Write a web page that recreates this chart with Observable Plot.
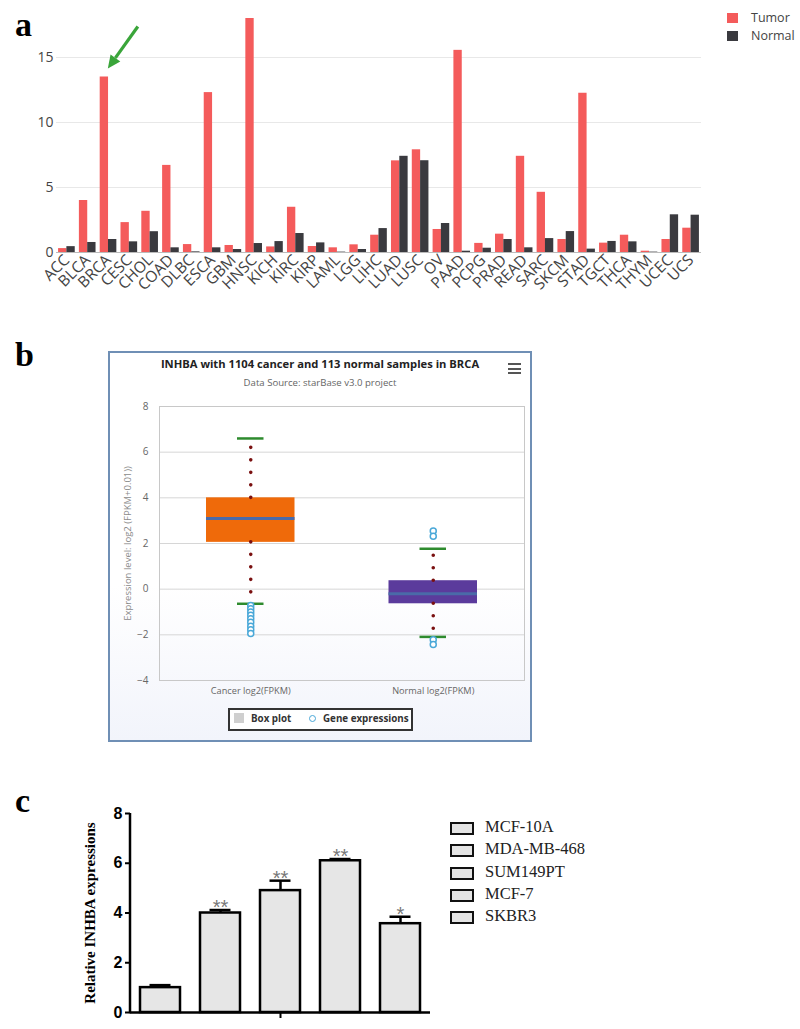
<!DOCTYPE html>
<html><head><meta charset="utf-8">
<script src="https://cdn.jsdelivr.net/npm/d3@7"></script>
<script src="https://cdn.jsdelivr.net/npm/@observablehq/plot@0.6"></script>
<style>
body{margin:0;background:#fff;}
#root{position:relative;width:800px;height:1029px;overflow:hidden;background:#fff;font-family:"Open Sans",sans-serif;}
.abs{position:absolute;}
.plabel{position:absolute;font-family:"Liberation Serif",serif;font-weight:bold;font-size:34px;line-height:1;color:#000;}
svg{overflow:visible;}
</style></head><body><div id="root"></div>
<script>
// ---------- Panel a data ----------
const cancers = ["ACC","BLCA","BRCA","CESC","CHOL","COAD","DLBC","ESCA","GBM","HNSC","KICH","KIRC","KIRP","LAML","LGG","LIHC","LUAD","LUSC","OV","PAAD","PCPG","PRAD","READ","SARC","SKCM","STAD","TGCT","THCA","THYM","UCEC","UCS"];
const tumor  = [0.3,4.0,13.5,2.3,3.17,6.7,0.61,12.3,0.54,18.0,0.43,3.48,0.46,0.36,0.59,1.33,7.05,7.9,1.77,15.55,0.7,1.41,7.4,4.63,1.0,12.25,0.72,1.33,0.1,1.0,1.87];
const normal = [0.45,0.77,1.0,0.82,1.6,0.36,0.05,0.36,0.23,0.69,0.84,1.46,0.74,0.03,0.23,1.84,7.4,7.06,2.23,0.1,0.33,1.0,0.36,1.07,1.61,0.26,0.85,0.82,0.03,2.9,2.87];
const seriesNames = ["Tumor","Normal"];
const seriesColors = ["#f45b5b","#3a3a3f"];
const ticksA = [0,5,10,15];

// ---------- Panel b data ----------
const groupsB = ["Cancer log2(FPKM)","Normal log2(FPKM)"];
const q1B  = [2.05,-0.64];
const medB = [3.1,-0.2];
const q3B  = [4.0,0.37];
const loB  = [-0.64,-2.09];
const hiB  = [6.6,1.77];
const boxColorsB = ["#ef6a0a","#5b3b9c"];
const outCancer = [-0.72,-0.86,-1.0,-1.14,-1.3,-1.45,-1.62,-1.78,-1.94];
const outNormal = [2.55,2.32,-2.22,-2.42];
const ticksB = [-4,-2,0,2,4,6,8];

// ---------- Panel c data ----------
const cells  = ["MCF-10A","MDA-MB-468","SUM149PT","MCF-7","SKBR3"];
const meansC = [1.0,4.0,4.9,6.1,3.57];
const errC   = [0.1,0.12,0.4,0.07,0.28];
const starsC = ["","**","**","**","*"];
const ticksC = [0,2,4,6,8];

const root = document.getElementById("root");
function addDiv(html, style, cls){const d=document.createElement("div");d.className=cls||"abs";d.innerHTML=html;Object.assign(d.style,style);root.appendChild(d);return d;}
function place(el, left, top){el.style.position="absolute";el.style.left=left+"px";el.style.top=top+"px";root.appendChild(el);}

// ================= Panel a =================
const dataA = cancers.flatMap((c,i)=>[{cancer:c,type:"Tumor",value:tumor[i]},{cancer:c,type:"Normal",value:normal[i]}]);
const plotA = Plot.plot({
  width:710, height:300, marginLeft:56, marginRight:9, marginTop:11.5, marginBottom:48,
  style:{fontFamily:"Open Sans", fontSize:"14px", color:"#444", background:"transparent"},
  x:{domain:cancers, paddingInner:0.2, paddingOuter:0.1, round:false, label:null},
  y:{domain:[0,18.5], label:null},
  color:{domain:seriesNames, range:seriesColors},
  marks:[
    Plot.gridY(ticksA.filter(d=>d>0), {stroke:"#e8e8e8", strokeOpacity:1}),
    Plot.barY(dataA.filter(d=>d.type==="Tumor"), {x:"cancer", y:"value", fill:"type", insetRight:8.3}),
    Plot.barY(dataA.filter(d=>d.type==="Normal"), {x:"cancer", y:"value", fill:"type", insetLeft:8.3}),
    Plot.ruleY([0], {stroke:"#bbb"}),
    Plot.axisY({ticks:ticksA, tickSize:0, tickPadding:3, fontSize:14, fill:"#444", label:null}),
    Plot.axisX({tickSize:0, tickRotate:-45, tickPadding:5, fontSize:15.5, fill:"#444", label:null})
  ]
});
place(plotA, 0, 0);
// green arrow pointing at BRCA tumor bar
{
  const sx = plotA.scale("x"), sy = plotA.scale("y");
  const bi = cancers.indexOf("BRCA");
  const tipX = sx.apply("BRCA") + sx.bandwidth*0.25 + 4;
  const tipY = sy.apply(tumor[bi]) - 8;
  const vx = -30, vy = 42, L = Math.hypot(vx,vy), ux = vx/L, uy = vy/L, px = -uy, py = ux;
  const bx = tipX - ux*13, by = tipY - uy*13;
  const g = d3.select(plotA).append("g");
  g.append("line").attr("x1", tipX - vx).attr("y1", tipY - vy).attr("x2", bx).attr("y2", by)
    .attr("stroke","#3aa53a").attr("stroke-width",3.2);
  g.append("polygon").attr("points",[[tipX,tipY],[bx+px*6,by+py*6],[bx-px*6,by-py*6]].map(p=>p.join(",")).join(" "))
    .attr("fill","#3aa53a");
}
// legend a
seriesNames.forEach((n,i)=>{
  addDiv("", {left:"727px", top:(13+i*18)+"px", width:"11px", height:"10px", background:seriesColors[i]});
  addDiv(n, {left:"751px", top:(9+i*18)+"px", fontSize:"12.5px", color:"#444", fontFamily:"Open Sans", lineHeight:"18px"});
});
addDiv("a", {left:"15px", top:"8px"}, "plabel");

// ================= Panel b =================
addDiv("b", {left:"15px", top:"338px"}, "plabel");
addDiv("", {left:"108px", top:"351px", width:"420px", height:"387px", border:"2px solid #6f8fb5",
  background:"linear-gradient(#ffffff 0%, #ffffff 60%, #f2f4fb 100%)"});
addDiv("INHBA with 1104 cancer and 113 normal samples in BRCA", {left:"110px", top:"355px", width:"420px", textAlign:"center",
  fontFamily:"Open Sans", fontWeight:"bold", fontSize:"11.2px", color:"#222", lineHeight:"18px"});
addDiv("Data Source: starBase v3.0 project", {left:"110px", top:"375px", width:"420px", textAlign:"center",
  fontFamily:"Open Sans", fontSize:"9.6px", color:"#666", lineHeight:"16px"});
[0,1,2].forEach(k=>addDiv("", {left:"508px", top:(363+k*4.5)+"px", width:"13px", height:"2px", background:"#555"}));

const boxesB = groupsB.map((g,i)=>({g, q1:q1B[i], med:medB[i], q3:q3B[i], lo:loB[i], hi:hiB[i], color:boxColorsB[i]}));
const outB = [...outCancer.map(v=>({g:groupsB[0], v})), ...outNormal.map(v=>({g:groupsB[1], v}))];
const dotted = {stroke:"#7a1010", strokeWidth:3.6, strokeDasharray:"0 12.5", strokeLinecap:"round"};
const plotB = Plot.plot({
  width:420, height:360, marginLeft:49, marginRight:6, marginTop:53, marginBottom:33,
  style:{fontFamily:"Open Sans", fontSize:"10px", color:"#666", background:"transparent"},
  x:{domain:groupsB, padding:0, round:false, label:null},
  y:{domain:[-4,8], label:null},
  color:{type:"identity"},
  marks:[
    Plot.gridY(ticksB, {stroke:"#d6d6d6", strokeOpacity:1}),
    Plot.frame({stroke:"#c8c8c8"}),
    Plot.barY(boxesB, {x:"g", y1:"q1", y2:"q3", fill:"color", insetLeft:47, insetRight:47}),
    Plot.tickY(boxesB, {x:"g", y:"med", stroke:"#4a6aa8", strokeWidth:3, insetLeft:47, insetRight:47}),
    Plot.ruleX(boxesB, {x:"g", y1:"q3", y2:"hi", ...dotted}),
    Plot.ruleX(boxesB, {x:"g", y1:"q1", y2:"lo", ...dotted}),
    Plot.tickY(boxesB, {x:"g", y:"hi", stroke:"#2e8b2e", strokeWidth:2.5, inset:78}),
    Plot.tickY(boxesB, {x:"g", y:"lo", stroke:"#2e8b2e", strokeWidth:2.5, inset:78}),
    Plot.dot(outB, {x:"g", y:"v", r:3, stroke:"#4aa8d8", strokeWidth:1.5, fill:"white"}),
    Plot.axisY({ticks:ticksB, tickSize:0, tickPadding:11, fill:"#666", fontSize:10, label:null}),
    Plot.axisX({tickSize:0, tickPadding:7, fontSize:9.2, fill:"#666", label:null}),
    Plot.text(["Expression level: log2 (FPKM+0.01))"], {frameAnchor:"left", textAnchor:"middle", rotate:-90, dx:-32, fill:"#8a8a8a", fontSize:9.5})
  ]
});
place(plotB, 110, 353);
// legend b
addDiv("", {left:"228px", top:"708px", width:"181px", height:"19px", border:"2px solid #333", background:"#fff"});
addDiv("", {left:"234px", top:"713px", width:"10px", height:"10px", background:"#cfcfcf"});
addDiv("Box plot", {left:"251px", top:"709px", fontFamily:"Open Sans", fontWeight:"bold", fontSize:"9.8px", color:"#333", lineHeight:"19px"});
addDiv("", {left:"309px", top:"715px", width:"5px", height:"5px", border:"1.5px solid #4aa8d8", borderRadius:"50%"});
addDiv("Gene expressions", {left:"323px", top:"709px", fontFamily:"Open Sans", fontWeight:"bold", fontSize:"9.8px", color:"#333", lineHeight:"19px"});

// ================= Panel c =================
addDiv("c", {left:"15px", top:"784px"}, "plabel");
const dataC = cells.map((c,i)=>({cell:c, mean:meansC[i], hi:meansC[i]+errC[i], star:starsC[i]}));
const plotC = Plot.plot({
  width:440, height:239, marginLeft:130, marginRight:10, marginTop:23, marginBottom:17,
  style:{fontFamily:"Liberation Sans", background:"transparent", color:"#000"},
  x:{domain:cells, paddingInner:1/3, paddingOuter:1/6, round:false, label:null},
  y:{domain:[0,8], label:null},
  marks:[
    Plot.barY(dataC, {x:"cell", y:"mean", fill:"#e6e6e6", stroke:"#000", strokeWidth:2.5}),
    Plot.ruleX(dataC, {x:"cell", y1:"mean", y2:"hi", stroke:"#000", strokeWidth:2.5}),
    Plot.tickY(dataC, {x:"cell", y:"hi", stroke:"#000", strokeWidth:2.5, inset:9.5}),
    Plot.text(dataC, {x:"cell", y:"hi", text:"star", dy:-2.5, fill:"#777", fontSize:20}),
    Plot.ruleY([0], {stroke:"#000", strokeWidth:2.5}),
    Plot.axisY({ticks:ticksC, tickSize:5, tickPadding:3, fontSize:16, fontWeight:"bold", stroke:"#000", strokeWidth:2, fill:"#000", label:null}),
    Plot.axisX({ticks:[cells[2]], tickSize:6, tickFormat:()=>"", stroke:"#000", strokeWidth:2, label:null}),
    Plot.text(["Relative INHBA expressions"], {frameAnchor:"left", textAnchor:"middle", rotate:-90, dx:-40, fill:"#000", fontSize:15, fontWeight:"bold", fontFamily:"Liberation Serif"})
  ]
});
place(plotC, 0, 790);
{
  const sx = plotC.scale("x"), sy = plotC.scale("y");
  d3.select(plotC).append("line").attr("x1", sx.range[0]).attr("x2", sx.range[0])
    .attr("y1", sy.range[0] + 1.25).attr("y2", sy.range[1]).attr("stroke","#000").attr("stroke-width",2.5);
}
// legend c
cells.forEach((c,i)=>{
  addDiv("", {left:"450px", top:(822+i*22.3)+"px", width:"20px", height:"9px", border:"2px solid #111", background:"#e4e4e4"});
  addDiv(c, {left:"485px", top:(815+i*22.3)+"px", fontFamily:"Liberation Serif", fontSize:"16.5px", color:"#222", lineHeight:"24px"});
});
</script></body></html>
